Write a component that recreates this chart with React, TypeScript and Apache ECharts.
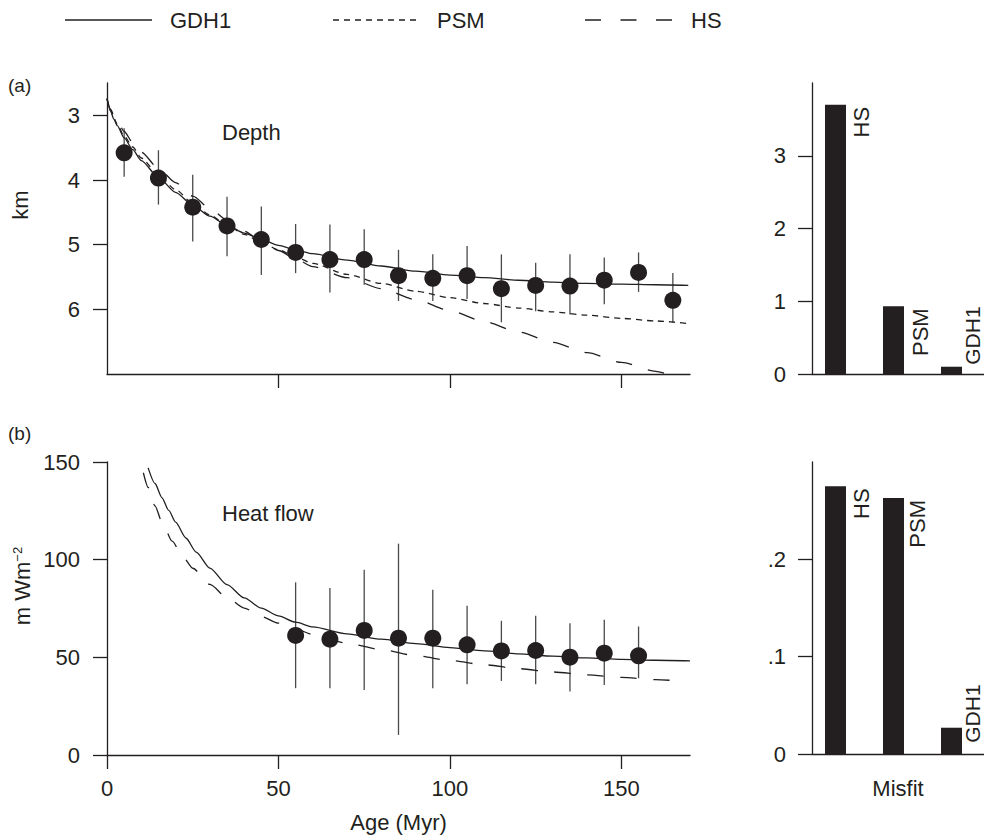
import React, { useEffect, useRef } from "react";
import * as echarts from "echarts";

// ---- Depth data (panel a) ----
const depthAges = [5, 15, 25, 35, 45, 55, 65, 75, 85, 95, 105, 115, 125, 135, 145, 155, 165];
const depthObs = [3.58, 3.97, 4.42, 4.71, 4.92, 5.12, 5.23, 5.23, 5.48, 5.52, 5.48, 5.68, 5.63, 5.64, 5.55, 5.43, 5.86];
const depthErrTop = [3.2, 3.54, 3.92, 4.26, 4.41, 4.68, 4.69, 4.76, 5.08, 5.15, 5.02, 5.15, 5.28, 5.15, 5.2, 5.12, 5.44];
const depthErrBottom = [3.95, 4.38, 4.95, 5.18, 5.47, 5.44, 5.74, 5.62, 5.87, 5.87, 5.84, 6.2, 6.03, 6.08, 5.92, 5.73, 6.2];

const depthModelAges = [0, 1, 2, 3, 5, 7.5, 10, 15, 20, 25, 30, 35, 40, 45, 50, 55, 60, 70, 80, 90, 100, 110, 120, 130, 140, 150, 160, 169.5];
const gdh1Depth = [2.74, 2.93, 3.06, 3.16, 3.35, 3.53, 3.7, 3.96, 4.19, 4.39, 4.56, 4.7, 4.82, 4.92, 5.01, 5.08, 5.14, 5.24, 5.33, 5.41, 5.47, 5.51, 5.55, 5.58, 5.6, 5.61, 5.62, 5.63];
const psmDepth = [2.74, 2.92, 3.04, 3.14, 3.32, 3.49, 3.66, 3.92, 4.15, 4.36, 4.54, 4.7, 4.84, 4.96, 5.08, 5.19, 5.29, 5.46, 5.6, 5.72, 5.82, 5.91, 5.98, 6.04, 6.09, 6.14, 6.18, 6.22];
const hsDepthAges = [0, 1, 2, 3, 5, 7.5, 10, 15, 20, 25, 30, 35, 40, 45, 50, 55, 60, 70, 80, 90, 100, 110, 120, 130, 140, 150, 160, 164];
const hsDepth = [2.74, 2.9, 3.0, 3.09, 3.25, 3.42, 3.57, 3.82, 4.04, 4.25, 4.44, 4.62, 4.79, 4.94, 5.09, 5.22, 5.34, 5.51, 5.68, 5.85, 6.02, 6.19, 6.35, 6.51, 6.67, 6.82, 6.96, 7.01];

// ---- Heat flow data (panel b) ----
const hfAges = [55, 65, 75, 85, 95, 105, 115, 125, 135, 145, 155];
const hfObs = [61.2, 59.3, 63.8, 59.8, 59.8, 56.4, 53.3, 53.5, 50.1, 52.1, 50.8];
const hfErrLow = [34.2, 34.2, 33.3, 10.3, 34.2, 36.2, 37.9, 36.2, 32.5, 35.9, 39.3];
const hfErrHigh = [88.4, 85.5, 94.9, 108.2, 84.6, 76.4, 68.7, 71.3, 67.5, 69.2, 65.8];

const gdh1HfAges = [12, 14, 16, 18, 20, 23, 26, 30, 35, 40, 45, 50, 55, 60, 70, 80, 90, 100, 110, 120, 130, 140, 150, 160, 170];
const gdh1Hf = [147, 139, 131.8, 125.2, 119.2, 111.1, 103.9, 95.7, 87.2, 80.4, 75.2, 71.2, 68.0, 65.6, 62.0, 59.3, 57.0, 55.0, 53.3, 51.8, 50.6, 49.7, 49.0, 48.5, 48.2];
const hsHfAges = [10.6, 12, 14, 16, 19, 22, 25, 30, 35, 40, 45, 50, 55, 60, 70, 80, 90, 100, 110, 120, 130, 140, 150, 160, 167];
const hsHf = [144.5, 137, 127.5, 119.5, 109.5, 101.8, 95.6, 87.3, 80.6, 75.2, 70.9, 67.5, 64.5, 61.7, 57.2, 53.9, 50.9, 48.4, 46.2, 44.2, 42.5, 41.0, 39.7, 38.6, 37.9];

// ---- Misfit bars ----
const misfitModels = ["HS", "PSM", "GDH1"];
const depthMisfit = [3.7, 0.93, 0.1];
const hfMisfit = [0.275, 0.263, 0.027];

// ---- Tick values ----
const depthTicks = [3, 4, 5, 6];
const ageTicksTop = [50, 100, 150];
const ageTicks = [0, 50, 100, 150];
const hfTicks = [0, 50, 100, 150];
const depthMisfitTicks = [0, 1, 2, 3];
const hfMisfitTicks = [0, 0.1, 0.2];

const ink = "#231f20";
const font = "'Liberation Sans', Arial, Helvetica, sans-serif";

const pairs = (xs: number[], ys: number[]) => xs.map((x, i) => [x, ys[i]]);

export default function App() {
  const ref = useRef<HTMLDivElement>(null);

  useEffect(() => {
    if (!ref.current) return;
    const chart = echarts.init(ref.current, undefined, { renderer: "svg" });

    const axisLine = { show: true, onZero: false, lineStyle: { color: ink, width: 1.3 } };
    const tick = (vals: number[] | null) =>
      vals
        ? { show: true, inside: false, length: 14, lineStyle: { color: ink, width: 1.3 }, customValues: vals }
        : { show: false };
    const label = (vals: number[] | null, margin: number, fmt?: (v: number) => string) =>
      vals
        ? { show: true, customValues: vals, margin, fontSize: 22, color: ink, fontFamily: font, formatter: fmt }
        : { show: false };

    const errRender = (params: any, api: any) => {
      const p1 = api.coord([api.value(0), api.value(1)]);
      const p2 = api.coord([api.value(0), api.value(2)]);
      return {
        type: "line",
        shape: { x1: p1[0], y1: p1[1], x2: p2[0], y2: p2[1] },
        style: { stroke: "#4a4a4a", lineWidth: 1.3 },
      };
    };

    const lineSeries = (xi: number, data: number[][], type: any) => ({
      type: "line",
      xAxisIndex: xi,
      yAxisIndex: xi,
      data,
      showSymbol: false,
      smooth: 0.25,
      smoothMonotone: "x",
      clip: true,
      z: 3,
      lineStyle: { color: ink, width: 1.3, type },
    });

    const txt = (text: string, x: number, y: number, extra: any = {}) => ({
      type: "text",
      x,
      y,
      style: { text, fontSize: 22, fill: ink, fontFamily: font, verticalAlign: "middle", ...extra },
    });

    const legendY = 20;
    const baseGraphic: any[] = [
      // legend
      { type: "line", shape: { x1: 65, y1: legendY, x2: 152, y2: legendY }, style: { stroke: ink, lineWidth: 1.3 } },
      txt("GDH1", 170, legendY),
      { type: "line", shape: { x1: 333, y1: legendY, x2: 420, y2: legendY }, style: { stroke: ink, lineWidth: 1.3, lineDash: [6, 5] } },
      txt("PSM", 437, legendY),
      { type: "line", shape: { x1: 585, y1: legendY, x2: 672, y2: legendY }, style: { stroke: ink, lineWidth: 1.3, lineDash: [16, 19.5] } },
      txt("HS", 691, legendY),
      // panel letters
      txt("(a)", 8, 85, { fontSize: 19 }),
      txt("(b)", 8, 433, { fontSize: 19 }),
      // panel titles
      txt("Depth", 222, 132),
      txt("Heat flow", 222, 513),
      // y-axis titles
      { ...txt("km", 20, 205, { align: "center" }), rotation: Math.PI / 2 },
      {
        ...txt("m Wm{sup|−2}", 22, 586, {
          align: "center",
          rich: { sup: { fontSize: 13, fill: ink, fontFamily: font, verticalAlign: "top", lineHeight: 22 } },
        }),
        rotation: Math.PI / 2,
      },
    ];

    const option: any = {
      animation: false,
      textStyle: { fontFamily: font },
      grid: [
        { left: 107, top: 83, width: 583, height: 291 },
        { left: 107, top: 462, width: 583, height: 293 },
        { left: 812, top: 83, width: 172, height: 291 },
        { left: 812, top: 462, width: 172, height: 292 },
      ],
      xAxis: [
        {
          type: "value", gridIndex: 0, min: 0, max: 170,
          axisLine, axisTick: tick(ageTicksTop), axisLabel: label(null, 0), splitLine: { show: false },
        },
        {
          type: "value", gridIndex: 1, min: 0, max: 170,
          axisLine, axisTick: tick(ageTicks), axisLabel: label(ageTicks, 22), splitLine: { show: false },
          name: "Age (Myr)", nameLocation: "middle", nameGap: 56,
          nameTextStyle: { fontSize: 22, color: ink, fontFamily: font },
        },
        {
          type: "value", gridIndex: 2, min: 0.595, max: 3.56,
          axisLine, axisTick: tick(null), axisLabel: label(null, 0), splitLine: { show: false },
        },
        {
          type: "value", gridIndex: 3, min: 0.595, max: 3.56,
          axisLine, axisTick: tick(null), axisLabel: label(null, 0), splitLine: { show: false },
          name: "Misfit", nameLocation: "middle", nameGap: 23,
          nameTextStyle: { fontSize: 22, color: ink, fontFamily: font },
        },
      ],
      yAxis: [
        {
          type: "value", gridIndex: 0, min: 2.5, max: 7, inverse: true,
          axisLine, axisTick: tick(depthTicks), axisLabel: label(depthTicks, 27), splitLine: { show: false },
        },
        {
          type: "value", gridIndex: 1, min: 0, max: 150, interval: 50,
          axisLine, axisTick: tick(hfTicks), axisLabel: label(hfTicks, 27), splitLine: { show: false },
        },
        {
          type: "value", gridIndex: 2, min: 0, max: 4,
          axisLine, axisTick: tick(depthMisfitTicks), axisLabel: label(depthMisfitTicks, 26), splitLine: { show: false },
        },
        {
          type: "value", gridIndex: 3, min: 0, max: 0.3,
          axisLine, axisTick: tick(hfMisfitTicks),
          axisLabel: label(hfMisfitTicks, 26, (v: number) => (v === 0 ? "0" : String(v).replace(/^0/, ""))),
          splitLine: { show: false },
        },
      ],
      series: [
        {
          type: "custom", xAxisIndex: 0, yAxisIndex: 0, z: 2,
          data: depthAges.map((a, i) => [a, depthErrTop[i], depthErrBottom[i]]),
          encode: { x: 0, y: [1, 2] },
          renderItem: errRender,
        },
        { name: "GDH1", ...lineSeries(0, pairs(depthModelAges, gdh1Depth), "solid") },
        { name: "PSM", ...lineSeries(0, pairs(depthModelAges, psmDepth), [6, 5]) },
        { name: "HS", ...lineSeries(0, pairs(hsDepthAges, hsDepth), [16.5, 16.5]) },
        {
          type: "scatter", xAxisIndex: 0, yAxisIndex: 0, z: 5,
          symbol: "circle", symbolSize: 17, itemStyle: { color: ink, opacity: 1 },
          data: pairs(depthAges, depthObs),
        },
        {
          type: "custom", xAxisIndex: 1, yAxisIndex: 1, z: 2,
          data: hfAges.map((a, i) => [a, hfErrLow[i], hfErrHigh[i]]),
          encode: { x: 0, y: [1, 2] },
          renderItem: errRender,
        },
        { name: "GDH1 heat flow", ...lineSeries(1, pairs(gdh1HfAges, gdh1Hf), "solid") },
        { name: "HS heat flow", ...lineSeries(1, pairs(hsHfAges, hsHf), [16.5, 16.5]) },
        {
          type: "scatter", xAxisIndex: 1, yAxisIndex: 1, z: 5,
          symbol: "circle", symbolSize: 17, itemStyle: { color: ink, opacity: 1 },
          data: pairs(hfAges, hfObs),
        },
        {
          type: "bar", xAxisIndex: 2, yAxisIndex: 2, barWidth: 21,
          itemStyle: { color: ink },
          data: misfitModels.map((n, i) => ({ name: n, value: [i + 1, depthMisfit[i]] })),
        },
        {
          type: "bar", xAxisIndex: 3, yAxisIndex: 3, barWidth: 21,
          itemStyle: { color: ink },
          data: misfitModels.map((n, i) => ({ name: n, value: [i + 1, hfMisfit[i]] })),
        },
      ],
      graphic: baseGraphic,
    };

    chart.setOption(option);

    // Rotated model names beside each misfit bar, positioned through the axes' own scales
    const barLabels: any[] = [];
    const addLabels = (axisIdx: number, values: number[], dx: number[], dy: number[]) => {
      misfitModels.forEach((n, i) => {
        const p = chart.convertToPixel({ xAxisIndex: axisIdx, yAxisIndex: axisIdx } as any, [i + 1, values[i]]) as number[];
        const short = i === 2;
        barLabels.push({
          type: "text",
          x: p[0] + dx[i],
          y: p[1] + dy[i],
          rotation: Math.PI / 2,
          style: {
            text: n, fontSize: short ? 21 : 22, fill: ink, fontFamily: font,
            align: short ? "left" : "right", verticalAlign: "middle",
          },
        });
      });
    };
    addLabels(2, depthMisfit, [26, 27, 21], [2, 2, -2]);
    addLabels(3, hfMisfit, [26, 24, 21], [2, 2, 15]);
    chart.setOption({ graphic: [...baseGraphic, ...barLabels] });

    return () => chart.dispose();
  }, []);

  return (
    <div
      ref={ref}
      style={{ position: "fixed", left: 0, top: 0, width: 984, height: 837, background: "#fff" }}
    />
  );
}
